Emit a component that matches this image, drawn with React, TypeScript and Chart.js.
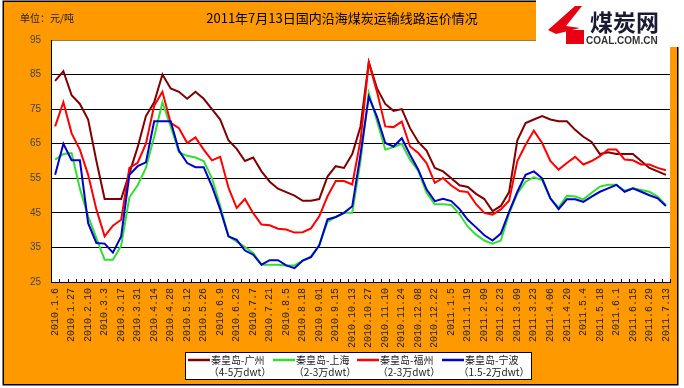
import React, { useEffect, useRef } from 'react';
import { Chart, registerables } from 'chart.js';
Chart.register(...registerables);

const W = 684;
const H = 388;

const title = '2011年7月13日国内沿海煤炭运输线路运价情况';
const unitLabel = '单位：元/吨';

const tickLabels = [
  '2010.1.6', '2010.1.27', '2010.2.10', '2010.3.3', '2010.3.17', '2010.3.31', '2010.4.14', '2010.4.28',
  '2010.5.12', '2010.5.26', '2010.6.9', '2010.6.23', '2010.7.7', '2010.7.21', '2010.8.5', '2010.8.18',
  '2010.9.01', '2010.9.15', '2010.10.13', '2010.10.27', '2010.11.10', '2010.11.24', '2010.12.08', '2010.12.22',
  '2011.1.5', '2011.1.19', '2011.2.09', '2011.2.23', '2011.3.09', '2011.3.23', '2011.4.06', '2011.4.20',
  '2011.5.4', '2011.5.18', '2011.6.1', '2011.6.15', '2011.6.29', '2011.7.13',
];

const seriesNames = ['秦皇岛-广州', '秦皇岛-上海', '秦皇岛-福州', '秦皇岛-宁波'];
const seriesSizes = ['（4-5万dwt）', '（2-3万dwt）', '（2-3万dwt）', '（1.5-2万dwt）'];
const seriesColors = ['#800000', '#33DD33', '#FF0000', '#0000CC'];

const guangzhou = [
  83.2, 86, 79, 76.5, 72, 60, 49, 49, 49, 56.5,
  64, 73, 77, 85, 81, 80, 78, 80, 78, 75,
  72, 66, 63.5, 60, 61, 57, 54, 52, 51, 50,
  48.5, 48.5, 49, 55.5, 58.5, 58, 62, 70, 88.6, 81,
  76.5, 74.5, 75, 69.5, 65.5, 63, 58, 57, 55, 53,
  52.5, 50.5, 49, 45.5, 47, 51, 66, 71, 72, 73,
  72, 71.5, 71.5, 69, 67, 65.5, 62, 62.5, 62, 62,
  62, 60, 58, 57, 56,
];
const shanghai = [
  60.4, 62, 62.3, 52, 44, 37.7, 31.4, 31.4, 35.5, 49.5,
  53, 58, 67, 77, 70, 62.5, 61.5, 61, 60, 55,
  47, 38.2, 36.7, 35.1, 33.4, 30, 30, 30, 29.8, 29.8,
  31.2, 32.4, 35.6, 42.4, 43.8, 45, 45, 60, 79.7, 71.5,
  63.3, 64, 65, 60.4, 57.1, 50.8, 47.5, 47.5, 47.3, 44.6,
  41, 38.7, 37, 36.1, 37, 44.8, 50.6, 54, 55.3, 54.5,
  49.2, 46.6, 49.9, 49.7, 48.9, 50.8, 52.6, 53.1, 53.1, 51.4,
  52.1, 51.6, 51.1, 49.7, 47.2,
];
const fuzhou = [
  70, 77, 68, 63.3, 56, 46, 38.2, 41.3, 43, 58,
  59.5, 65, 76, 80, 71, 69.5, 65.2, 66.8, 63.3, 60.2,
  61.2, 52.3, 46.4, 49, 44.9, 41.6, 41.4, 40.4, 40.2, 39.3,
  39.4, 40.5, 44, 49.8, 54.2, 54.2, 53.2, 66, 88.5, 80,
  70, 69.8, 71.4, 64.2, 62.3, 59.4, 53.7, 55.1, 52.9, 51.3,
  51, 47.5, 45, 44.5, 46, 48.5, 60, 64.7, 68.8, 65.2,
  60, 57.5, 59.4, 61.2, 59, 60, 61.4, 63.3, 63.3, 60.4,
  60.2, 59, 59, 58, 57.3,
];
const ningbo = [
  56, 65, 60.2, 60.2, 42, 36.3, 36.1, 33.5, 38.2, 56,
  58.5, 59.6, 71.5, 71.5, 71.5, 63, 59.4, 58.2, 58.2, 52.7,
  46, 38.2, 37.2, 34.1, 32.9, 30, 31.3, 31.3, 29.8, 29,
  31.2, 32.2, 35.6, 43.1, 43.8, 45, 46.9, 62, 78.6, 72.8,
  65.2, 64.2, 66.6, 61.8, 57.5, 51.8, 48.4, 49.1, 48.4, 46.1,
  43, 40.8, 38.5, 37, 39, 45.3, 51.1, 56, 57, 55,
  49.2, 46.1, 48.9, 48.9, 48.2, 49.7, 51.1, 52.1, 53.1, 51.1,
  52.1, 51.1, 50.1, 49.2, 47,
];

const yMin = 25;
const yMax = 95;
const yStep = 10;

const seriesValues = [guangzhou, shanghai, fuzhou, ningbo];
const categories = guangzhou.map((_, i) => (i % 2 === 0 ? tickLabels[i / 2] : ''));

const CJK = '"Noto Sans CJK SC", sans-serif';

const decor = {
  id: 'decor',
  beforeDraw(chart: any) {
    const ctx = chart.ctx;
    const a = chart.chartArea;
    ctx.save();
    ctx.fillStyle = '#ffffff';
    ctx.fillRect(0, 0, W, H);
    ctx.fillStyle = '#FF9900';
    ctx.fillRect(3, 1, 675, 384);
    ctx.fillStyle = '#ffffff';
    ctx.fillRect(a.left, a.top, a.right - a.left, a.bottom - a.top);
    ctx.restore();
  },
  afterDraw(chart: any) {
    const ctx = chart.ctx;
    const a = chart.chartArea;
    ctx.save();
    // frame
    ctx.strokeStyle = '#000';
    ctx.lineWidth = 1.5;
    ctx.strokeRect(3.25, 1.25, 674.5, 383.5);

    // inner x ticks at category boundaries
    const n = categories.length;
    const cw = (a.right - a.left) / n;
    ctx.lineWidth = 1;
    ctx.strokeStyle = '#000';
    ctx.beginPath();
    for (let k = 0; k <= n; k++) {
      const x = Math.round(a.left + k * cw) + 0.5;
      ctx.moveTo(x, a.bottom);
      ctx.lineTo(x, a.bottom - 3);
    }
    ctx.stroke();

    // legend box
    const lx = 185, ly = 352, lw = 346, lh = 27;
    ctx.fillStyle = '#fff';
    ctx.fillRect(lx, ly, lw, lh);
    ctx.strokeStyle = '#000';
    ctx.lineWidth = 1;
    ctx.strokeRect(lx + 0.5, ly + 0.5, lw, lh);
    const itemX = [188, 273, 357, 442];
    ctx.textBaseline = 'middle';
    for (let s = 0; s < seriesNames.length; s++) {
      const x0 = itemX[s];
      ctx.strokeStyle = seriesColors[s];
      ctx.lineWidth = 2.5;
      ctx.beginPath();
      ctx.moveTo(x0, ly + 8);
      ctx.lineTo(x0 + 22, ly + 8);
      ctx.stroke();
      ctx.fillStyle = '#222';
      ctx.font = `10px ${CJK}`;
      ctx.textAlign = 'left';
      ctx.fillText(seriesNames[s], x0 + 23, ly + 8);
      ctx.textAlign = 'center';
      ctx.fillText(seriesSizes[s], x0 + 52, ly + 20);
    }

    // title
    ctx.fillStyle = '#000';
    ctx.textAlign = 'center';
    ctx.textBaseline = 'middle';
    ctx.font = `13px ${CJK}`;
    ctx.fillText(title, 342, 18);

    // unit
    ctx.textAlign = 'left';
    ctx.font = `10px ${CJK}`;
    ctx.fillStyle = '#222';
    ctx.fillText(unitLabel, 20, 18);

    // logo
    ctx.fillStyle = '#fff';
    ctx.fillRect(536, 0, 148, 47);
    ctx.fillStyle = '#E60012';
    ctx.beginPath();
    ctx.moveTo(548, 30);
    ctx.lineTo(575, 6);
    ctx.lineTo(582, 6);
    ctx.lineTo(566, 26);
    ctx.lineTo(580, 28);
    ctx.lineTo(556, 34);
    ctx.closePath();
    ctx.fill();
    ctx.fillRect(566, 30, 18, 14);
    ctx.fillStyle = '#1a1a33';
    ctx.font = `bold 23px ${CJK}`;
    ctx.textAlign = 'left';
    ctx.textBaseline = 'alphabetic';
    ctx.fillText('煤炭网', 590, 31);
    ctx.font = 'bold 10px "Liberation Sans", sans-serif';
    ctx.fillStyle = '#333';
    ctx.fillText('COAL.COM.CN', 586, 44);
    ctx.restore();
  },
};

export default function App() {
  const ref = useRef<HTMLCanvasElement | null>(null);
  useEffect(() => {
    if (!ref.current) return;
    const datasets = seriesValues.map((vals, s) => ({
      label: seriesNames[s] + seriesSizes[s],
      data: vals,
      borderColor: seriesColors[s],
      backgroundColor: seriesColors[s],
      borderWidth: 2,
      pointRadius: 0,
      tension: 0,
      fill: false,
      order: 4 - s,
    }));
    const chart = new Chart(ref.current, {
      type: 'line',
      data: { labels: categories, datasets },
      options: {
        responsive: false,
        animation: false,
        devicePixelRatio: 1,
        layout: { padding: { left: 0, right: 13, top: 40, bottom: 0 } },
        plugins: { legend: { display: false }, tooltip: { enabled: false }, title: { display: false } },
        scales: {
          x: {
            type: 'category',
            offset: true,
            grid: { display: false, drawTicks: false },
            border: { display: true, color: '#000', width: 1 },
            ticks: {
              autoSkip: false,
              minRotation: 90,
              maxRotation: 90,
              padding: 6,
              color: '#222',
              font: { family: '"Liberation Mono", monospace', size: 10 },
            },
            afterFit: (s: any) => { s.height = 106; },
          },
          y: {
            min: yMin,
            max: yMax,
            grid: {
              color: (c: any) => (c.tick && c.tick.value === yMax ? '#9c7a4c' : '#000'),
              lineWidth: 1,
              drawTicks: false,
            },
            border: { display: true, color: '#000', width: 1 },
            ticks: {
              stepSize: yStep,
              padding: 10,
              color: '#444',
              font: { family: '"Liberation Sans", Arial, sans-serif', size: 10 },
            },
            afterFit: (s: any) => { s.width = 51; },
          },
        },
      },
      plugins: [decor],
    });
    return () => chart.destroy();
  }, []);
  return (
    <div style={{ position: 'fixed', left: 0, top: 0, width: W, height: H }}>
      <canvas ref={ref} width={W} height={H} style={{ width: W, height: H, display: 'block' }} />
    </div>
  );
}
